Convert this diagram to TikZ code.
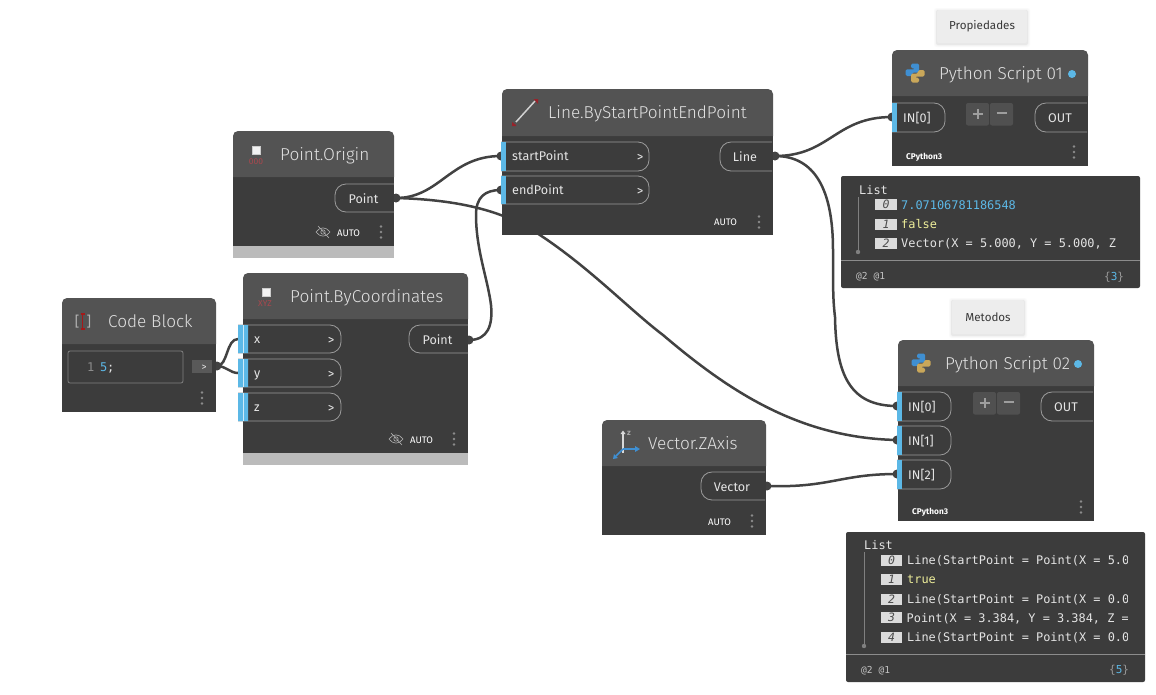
\documentclass[tikz,border=0pt]{standalone}
\usepackage{fontspec}
\setmainfont{Fira Sans Light}
\newfontfamily\uifont{Fira Sans}
\newfontfamily\lightfont{Fira Sans Light}
\newfontfamily\monofont{DejaVu Sans Mono}
\usetikzlibrary{fit}
\definecolor{bodyc}{HTML}{3C3C3C}
\definecolor{headc}{HTML}{535353}
\definecolor{bandc}{HTML}{BBBBBB}
\definecolor{wirec}{HTML}{424242}
\definecolor{bluec}{HTML}{5CB8E6}
\definecolor{titlec}{HTML}{E2E2E2}
\definecolor{textc}{HTML}{E4E4E4}
\definecolor{portl}{HTML}{9C9C9C}
\definecolor{yelc}{HTML}{EEEE9A}
\definecolor{redc}{HTML}{A8484E}
\definecolor{bluelogo}{HTML}{3F8FD2}
\definecolor{yellogo}{HTML}{C9A75A}
\definecolor{pmc}{HTML}{505050}
\pgfdeclarelayer{paper}
\pgfdeclarelayer{wires}
\pgfsetlayers{paper,wires,main}
\tikzset{
  x=1pt,y=-1pt,
  boxc/.style={inner sep=0pt,outer sep=0pt,fill=bodyc},
  titlet/.style={anchor=base west,inner sep=0pt,text=titlec,font=\lightfont\fontsize{17.2}{19}\selectfont},
  portt/.style={anchor=base west,inner sep=0pt,text=textc,font=\uifont\fontsize{12.6}{14}\selectfont},
  autot/.style={anchor=base west,inner sep=0pt,text=white,font=\uifont\fontsize{9.5}{11}\selectfont},
  arrt/.style={anchor=base,inner sep=0pt,text=textc,font=\uifont\fontsize{13}{14}\selectfont},
  mono/.style={anchor=base west,inner sep=0pt,text=textc,font=\monofont\fontsize{11.9}{14}\selectfont},
  smallm/.style={anchor=base west,inner sep=0pt,text=textc!85!black,font=\monofont\fontsize{9.6}{11}\selectfont},
  idx/.style={anchor=center,inner sep=0pt,fill=black!14,text=black!70,minimum width=22pt,minimum height=11pt,font=\monofont\itshape\fontsize{11.5}{11}\selectfont},
  wire/.style={draw=wirec,line width=2.5pt,line cap=round},
  knob/.style={circle,fill=wirec,inner sep=0pt,minimum size=9pt},
  portln/.style={draw=portl,line width=.8pt},
  gnote/.style={anchor=center,inner sep=0pt,fill=black!7,rounded corners=2pt},
}
\newcommand{\portoff}{11}
% node body: name, x1, y1, x2, header bottom, body bottom
\newcommand{\dynbody}[6]{%
  \node[boxc,fit={(#2,#5)(#4,#6)}] (#1) {};
  \fill[headc] (#2,#5) [rounded corners=5pt] -- (#2,#3) -- (#4,#3) [sharp corners] -- (#4,#5) -- cycle;
}
\newcommand{\dynband}[3]{\fill[bandc] (#1,#3) rectangle (#2,#3+12);}
% input port: name, x1, y1, x2, y2, text, baseline
\newcommand{\inport}[7]{%
  \draw[portln] (#2,#3) [rounded corners=11pt] -- (#4,#3) -- (#4,#5) [sharp corners] -- (#2,#5);
  \fill[bluec] (#2,#3) rectangle (#2+5,#5);
  \node[portt] (#1) at (#2+\portoff,#7) {#6};
}
% output port: name, x1, y1, x2, y2, text, baseline
\newcommand{\outport}[7]{%
  \draw[portln] (#4,#3) [rounded corners=11pt] -- (#2,#3) -- (#2,#5) [sharp corners] -- (#4,#5);
  \node[portt,anchor=base] (#1) at ({(#2+#4)/2-1},#7) {#6};
}
\newcommand{\threedots}[2]{%
  \foreach \d in {-5.5,0,5.5}{\fill[black!45] (#1,#2+\d) circle (1.4pt);}
}
\newcommand{\eyeoff}[2]{%
  \begin{scope}[shift={(#1,#2)},draw=black!30,line width=.6pt]
    \draw (-7,0) .. controls (-3,-5.5) and (3,-5.5) .. (7,0) .. controls (3,5.5) and (-3,5.5) .. (-7,0) -- cycle;
    \draw (0,0) circle (2.2pt);
    \draw (-5,-6) -- (6,6);
  \end{scope}
}
\newcommand{\pyicon}[2]{%
  \begin{scope}[shift={(#1,#2)},rounded corners=1.5pt]
    \fill[bluelogo] (-4,-9.5) -- (4,-9.5) -- (4,-0.5) -- (-3,-0.5) -- (-3,3) -- (-9.5,3) -- (-9.5,-3.7) -- (0,-3.7) -- (0,-4.7) -- (-4,-4.7) -- cycle;
    \fill[yellogo] (4,9.5) -- (-4,9.5) -- (-4,0.7) -- (3,0.7) -- (3,-3) -- (9.5,-3) -- (9.5,3.7) -- (0,3.7) -- (0,4.7) -- (4,4.7) -- cycle;
  \end{scope}
}
\newcommand{\plusminus}[2]{%
  \fill[pmc,rounded corners=2pt] (#1,#2) rectangle (#1+23,#2+22.5);
  \fill[pmc,rounded corners=2pt] (#1+24,#2) rectangle (#1+47,#2+22.5);
  \draw[black!38,line width=2pt] (#1+6.5,#2+11) -- (#1+16.5,#2+11) (#1+11.5,#2+6) -- (#1+11.5,#2+16);
  \draw[black!38,line width=2pt] (#1+30.5,#2+10) -- (#1+40.5,#2+10);
}
\newcommand{\softnote}[6]{%
  \fill[black!2,rounded corners=3pt] (#2-3,#3-2) rectangle (#4+3,#5+4);
  \fill[black!4,rounded corners=3pt] (#2-2,#3-1) rectangle (#4+2,#5+3);
  \fill[black!9,rounded corners=2pt] (#2-1,#3) rectangle (#4+1,#5+2);
  \node[gnote,fit={(#2,#3)(#4,#5)}] (#1) {};
  \node[anchor=center,inner sep=0pt,text=black!78,font=\uifont\fontsize{11.6}{13}\selectfont] at (#1.center) {#6};
}
\begin{document}
\begin{tikzpicture}
\useasboundingbox (0,0) rectangle (1156,694);
\begin{pgfonlayer}{paper}
\fill[white] (0,0) rectangle (1156,694);
\end{pgfonlayer}

% --- connector terminals
\node[knob] (kCB) at (217,366) {};
\node[knob] (kOrigin) at (396,198) {};
\node[knob] (kPBC) at (469,340) {};
\node[knob] (kLine) at (775,156) {};
\node[knob] (kVec) at (767,486) {};
\node[knob] (kStart) at (501,156) {};
\node[knob] (kEnd) at (501,190) {};
\node[knob] (kP1) at (892,117) {};
\node[knob] (kP2a) at (897,406) {};
\node[knob] (kP2b) at (897,440) {};
\node[knob] (kP2c) at (897,474) {};
\coordinate (kX) at (238,339);
\coordinate (kY) at (238,373);

% --- notes
\softnote{noteA}{937}{10}{1027}{43}{Propiedades}
\softnote{noteB}{952}{300}{1024}{334}{Metodos}

% --- Point.Origin
\dynbody{origin}{233}{131}{394}{177}{246}
\dynband{233}{394}{246}
\draw[black!20,line width=1pt,fill=black!5] (252,146) rectangle (260,154);
\node[anchor=center,inner sep=0pt,text=redc,font=\uifont\fontsize{8.5}{9}\selectfont] at (256,162) {000};
\node[titlet] (originT) at (280,160) {Point.Origin};
\outport{originOut}{335}{184}{394}{212}{Point}{203}
\eyeoff{323}{232}
\node[autot] at (337,236) {AUTO};
\threedots{381}{232}

% --- Point.ByCoordinates
\dynbody{pbc}{243}{273}{468}{319}{453}
\dynband{243}{468}{453}
\draw[black!20,line width=1pt,fill=black!5] (262,288) rectangle (270,296);
\node[anchor=center,inner sep=0pt,text=redc,font=\uifont\fontsize{8.5}{9}\selectfont] at (265,304) {XYZ};
\node[titlet] (pbcT) at (290,302) {Point.ByCoordinates};
\renewcommand{\portoff}{16}
\inport{px}{238}{325}{341}{353}{x}{343}
\inport{py}{238}{359}{341}{387}{y}{377}
\inport{pz}{238}{393}{341}{421}{z}{411}
\renewcommand{\portoff}{11}
\fill[bluec] (238,325) rectangle (248,353) (238,359) rectangle (248,387) (238,393) rectangle (248,421);
\foreach \yy in {325,359,393}{\draw[white!70!bluec,line width=.8pt] (243,\yy) -- (243,\yy+28);}
\foreach \yy in {344,378,412}{\node[arrt] at (331,\yy) {>};}
\outport{pbcOut}{409}{325}{468}{353}{Point}{344}
\eyeoff{396}{439}
\node[autot] at (410,443) {AUTO};
\threedots{454}{439}

% --- Code Block
\dynbody{cb}{62}{298}{216}{344}{412}
\node[anchor=center,inner sep=0pt,text=black!30,font=\uifont\fontsize{14}{16}\selectfont] at (83,321.5) {[\hspace{7pt}]};
\draw[red!60!black!90,line width=1.3pt] (82.5,314) -- (82.5,329) (80.5,314) -- (84.5,314) (80.5,329) -- (84.5,329);
\node[titlet] (cbT) at (108,327) {Code Block};
\draw[black!50,line width=.8pt,rounded corners=2pt] (68,351) rectangle (183,383);
\node[mono,text=black!45,font=\monofont\fontsize{12}{14}\selectfont] at (87,371) {1};
\node[mono,text=bluec,font=\monofont\fontsize{12}{14}\selectfont] (code5) at (100,371) {5};
\node[mono,font=\monofont\fontsize{12}{14}\selectfont] at (107,371) {;};
\fill[black!65] (192,360) rectangle (212,373);
\node[arrt,font=\uifont\fontsize{10}{10}\selectfont] at (204,370) {>};
\threedots{202}{398}

% --- Line.ByStartPointEndPoint
\dynbody{line}{502}{89}{773}{136}{235}
\draw[black!18,line width=1.5pt] (516,122) -- (535,101);
\fill[redc!120] (533.5,99) -- (538,99) -- (538,104) -- cycle;
\fill[redc!120] (512,122) -- (516,125) -- (516,126) -- (512,126) -- cycle;
\node[titlet] (lineT) at (548,118) {Line.ByStartPointEndPoint};
\inport{ls}{501}{142}{649}{171}{startPoint}{160}
\inport{le}{501}{176}{649}{204}{endPoint}{194}
\node[arrt] at (640,161) {>};
\node[arrt] at (640,195) {>};
\outport{lineOut}{720}{142}{772}{171}{Line}{161}
\node[autot] at (714,225) {AUTO};
\threedots{759}{222}

% --- Python Script 01
\dynbody{pyA}{892}{50}{1088}{96}{166}
\pyicon{915}{73}
\node[titlet] (pyAT) at (939,79) {Python Script 01};
\fill[bluec] (1072,74) circle (4pt);
\inport{pyAi}{892}{103}{945}{132}{IN[0]}{122}
\plusminus{966}{103}
\outport{pyAo}{1035}{103}{1087}{132}{OUT}{122}
\node[autot,font=\uifont\bfseries\fontsize{8.3}{10}\selectfont] at (906,159) {CPython3};
\threedots{1074}{152}

% --- Python Script 02
\dynbody{pyB}{898}{340}{1094}{386}{521}
\pyicon{921}{363}
\node[titlet] (pyBT) at (945,369) {Python Script 02};
\fill[bluec] (1078,364) circle (4pt);
\inport{pyBi}{897}{392}{951}{421}{IN[0]}{411}
\inport{pyBj}{897}{426}{951}{455}{IN[1]}{445}
\inport{pyBk}{897}{460}{951}{489}{IN[2]}{479}
\plusminus{973}{392}
\outport{pyBo}{1041}{392}{1093}{421}{OUT}{411}
\node[autot,font=\uifont\bfseries\fontsize{8.3}{10}\selectfont] at (912,514) {CPython3};
\threedots{1081}{507}

% --- Vector.ZAxis
\dynbody{vec}{602}{420}{766}{466}{535}
\draw[black!15,line width=1.6pt] (623,453) -- (623,433);
\fill[black!15] (620.5,434) -- (625.5,434) -- (623,430.5) -- cycle;
\node[anchor=center,inner sep=0pt,text=black!35,font=\uifont\bfseries\fontsize{8}{9}\selectfont] at (629,433) {z};
\draw[bluelogo,line width=1.6pt] (623,449) -- (636,449);
\fill[bluelogo] (635,446) -- (640,449) -- (635,452) -- cycle;
\draw[bluelogo,line width=1.6pt] (623,449) -- (616,456);
\fill[bluelogo] (613,459) -- (614,454) -- (618,458) -- cycle;
\node[titlet] (vecT) at (648,449) {Vector.ZAxis};
\outport{vecOut}{701}{472}{765}{500}{Vector}{491}
\node[autot] at (708,525) {AUTO};
\threedots{752}{521}

% --- List panel 1
\fill[bodyc,rounded corners=2pt] (841,176) rectangle (1140,288);
\draw[black!45,line width=.8pt] (841,260) -- (1140,260);
\node[mono] (l1) at (859,194) {List};
\draw[black!50,line width=.9pt] (858,197) -- (858,252);
\fill[black!50] (858,252) circle (2.2pt);
\node[idx] at (886,204.5) {0};
\node[idx] at (886,224) {1};
\node[idx] at (886,243) {2};
\node[mono,text=bluec] at (901,209) {7.07106781186548};
\node[mono,text=yelc] at (901,228) {false};
\node[mono] at (901,247) {Vector(X = 5.000, Y = 5.000, Z};
\node[smallm] at (856,279) {@2 @1};
\node[mono,text=black!40,font=\monofont\fontsize{11}{13}\selectfont] at (1104,280) {\{\textcolor{bluec}{3}\}};

% --- List panel 2
\fill[bodyc,rounded corners=2pt] (846,532) rectangle (1145,682);
\draw[black!45,line width=.8pt] (846,654) -- (1145,654);
\node[mono] (l2) at (864,549) {List};
\draw[black!50,line width=.9pt] (864,552) -- (864,646);
\fill[black!50] (864,646) circle (2.2pt);
\node[idx,minimum width=21pt] at (891.5,560) {0};
\node[idx,minimum width=21pt] at (891.5,579) {1};
\node[idx,minimum width=21pt] at (891.5,599) {2};
\node[idx,minimum width=21pt] at (891.5,617) {3};
\node[idx,minimum width=21pt] at (891.5,637) {4};
\begin{scope}
  \clip (905,550) rectangle (1127,645);
  \node[mono] at (907,564) {Line(StartPoint = Point(X = 5.000};
  \node[mono,text=yelc] at (907,583) {true};
  \node[mono] at (907,603) {Line(StartPoint = Point(X = 0.000};
  \node[mono] at (906.5,622) {Point(X = 3.384, Y = 3.384, Z = 0};
  \node[mono] at (907,641) {Line(StartPoint = Point(X = 0.000};
\end{scope}
\node[smallm] at (861,673) {@2 @1};
\node[mono,text=black!40,font=\monofont\fontsize{11}{13}\selectfont] at (1109,673) {\{\textcolor{bluec}{5}\}};

% --- wires, under everything
\begin{pgfonlayer}{wires}
\draw[wire] (kOrigin.center) .. controls (440,198) and (450,156) .. (kStart.center);
\draw[wire] (kOrigin.center) .. controls (470,200) and (510,215) .. (540,235)
   .. controls (590,268) and (630,310) .. (663,335)
   .. controls (730,392) and (800,438) .. (kP2b.center);
\draw[wire] (kPBC.center) .. controls (488,340) and (493,325) .. (491,305)
   .. controls (488,280) and (476,250) .. (476,215)
   .. controls (476,197) and (485,190) .. (kEnd.center);
\draw[wire] (kLine.center) .. controls (830,156) and (835,117) .. (kP1.center);
\draw[wire] (kLine.center) .. controls (815,156) and (833,190) .. (833,250)
   .. controls (833,290) and (833,300) .. (835,317)
   .. controls (836,375) and (850,406) .. (kP2a.center);
\draw[wire] (kVec.center) .. controls (830,488) and (840,474) .. (kP2c.center);
\draw[wire] (kCB.center) .. controls (228,366) and (226,339) .. (kX);
\draw[wire] (kCB.center) .. controls (226,366) and (230,373) .. (kY);
\end{pgfonlayer}
\end{tikzpicture}
\end{document}
